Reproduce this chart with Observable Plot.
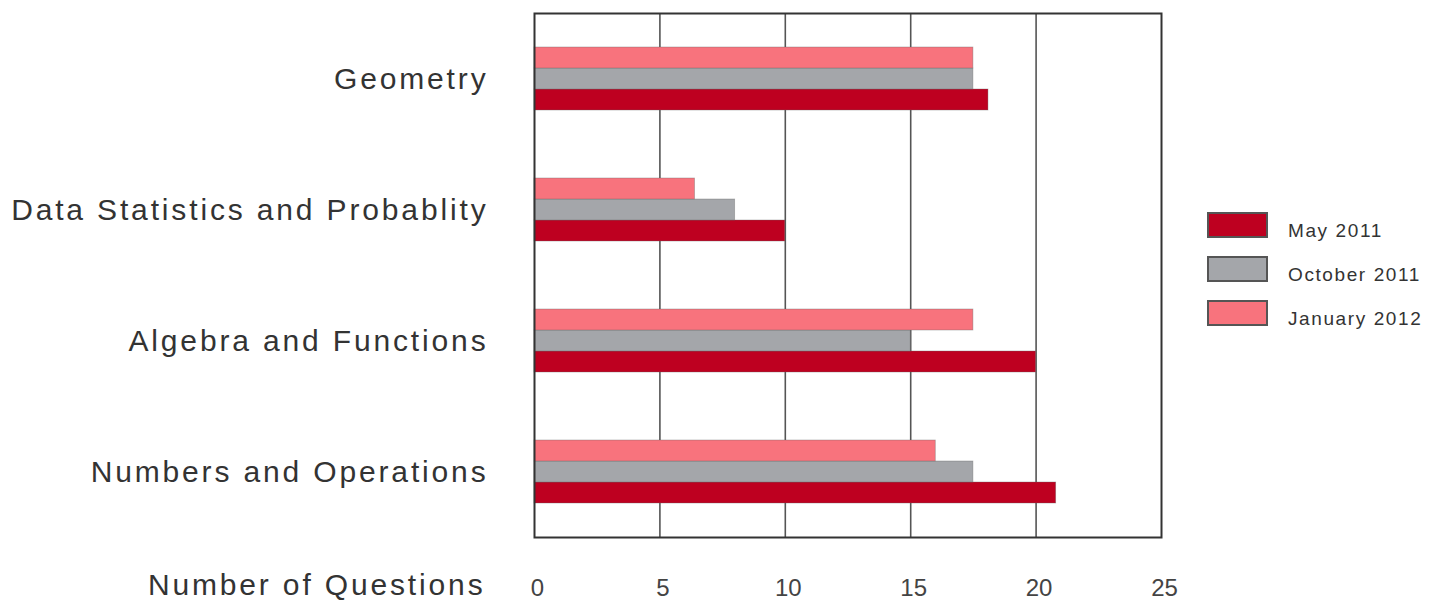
<!DOCTYPE html>
<html>
<head>
<meta charset="utf-8">
<script src="https://cdn.jsdelivr.net/npm/d3@7"></script>
<script src="https://cdn.jsdelivr.net/npm/@observablehq/plot@0.6"></script>
<style>
  html, body { margin: 0; padding: 0; background: #fff; }
  #wrap { position: relative; width: 1431px; height: 600px; font-family: "Liberation Sans", Arial, sans-serif; }
  #legend { position: absolute; left: 1207px; top: 212px; }
  .row { display: flex; align-items: center; height: 26px; margin-bottom: 18px; }
  .sw { width: 57px; height: 22px; border: 2px solid #555; box-sizing: content-box; }
  .lab { margin-left: 20px; margin-top: 12px; font-size: 19px; letter-spacing: 1.6px; color: #333; }
  g[aria-label="fy-axis tick label"] text { letter-spacing: 2.85px; }
  g[aria-label="text"] text { letter-spacing: 2.85px; }
</style>
</head>
<body>
<div id="wrap"><div id="chart"></div><div id="legend"></div></div>
<script>
const categories = ["Geometry", "Data Statistics and Probablity", "Algebra and Functions", "Numbers and Operations"];
const seriesNames = ["May 2011", "October 2011", "January 2012"];
const seriesColors = ["#be0020", "#a4a6aa", "#f8737d"];
const may2011 = [18.1, 10, 20, 20.8];
const october2011 = [17.5, 8, 15, 17.5];
const january2012 = [17.5, 6.4, 17.5, 16];
const xTicks = [0, 5, 10, 15, 20, 25];
const xLabel = "Number of Questions";

const seriesValues = [may2011, october2011, january2012];
const rows = [];
categories.forEach((c, i) => {
  seriesNames.forEach((s, j) => rows.push({category: c, series: s, value: seriesValues[j][i]}));
});

const marks = [
  Plot.ruleX(xTicks.slice(1, -1), {stroke: "#555", strokeWidth: 1.6}),
  Plot.barX(rows, {x: "value", y: "series", fy: "category", fill: "series",
    stroke: "#666", strokeOpacity: 0.45, strokeWidth: 0.8}),
  Plot.axisX({ticks: xTicks, tickSize: 0, tickPadding: 41, dx: 3, fontSize: 24, fill: "#444", label: null}),
  Plot.axisFy({anchor: "left", tickSize: 0, tickPadding: 46, fontSize: 30, label: null, fill: "#333"}),
  Plot.text([xLabel], {fy: () => categories[categories.length - 1], frameAnchor: "bottom-left",
    text: d => d, textAnchor: "end", dx: -49, dy: 57, fontSize: 30, fill: "#333"}),
  Plot.frame({facet: "super", stroke: "#333", strokeWidth: 2})
];

const chart = Plot.plot({
  width: 1431,
  height: 600,
  marginLeft: 534,
  marginRight: 270,
  marginTop: 13,
  marginBottom: 63,
  style: {fontFamily: "'Liberation Sans', Arial, sans-serif", background: "#fff", color: "#333"},
  x: {domain: [0, 25], axis: null},
  y: {domain: ["January 2012", "October 2011", "May 2011"], paddingInner: 0, paddingOuter: 1.5, axis: null},
  fy: {domain: categories, padding: 0, axis: null},
  color: {domain: seriesNames, range: seriesColors},
  marks
});
document.getElementById("chart").appendChild(chart);

const legend = document.getElementById("legend");
seriesNames.forEach((s, i) => {
  const row = document.createElement("div");
  row.className = "row";
  const sw = document.createElement("div");
  sw.className = "sw";
  sw.style.background = seriesColors[i];
  const lab = document.createElement("div");
  lab.className = "lab";
  lab.textContent = s;
  row.appendChild(sw);
  row.appendChild(lab);
  legend.appendChild(row);
});
</script>
</body>
</html>
